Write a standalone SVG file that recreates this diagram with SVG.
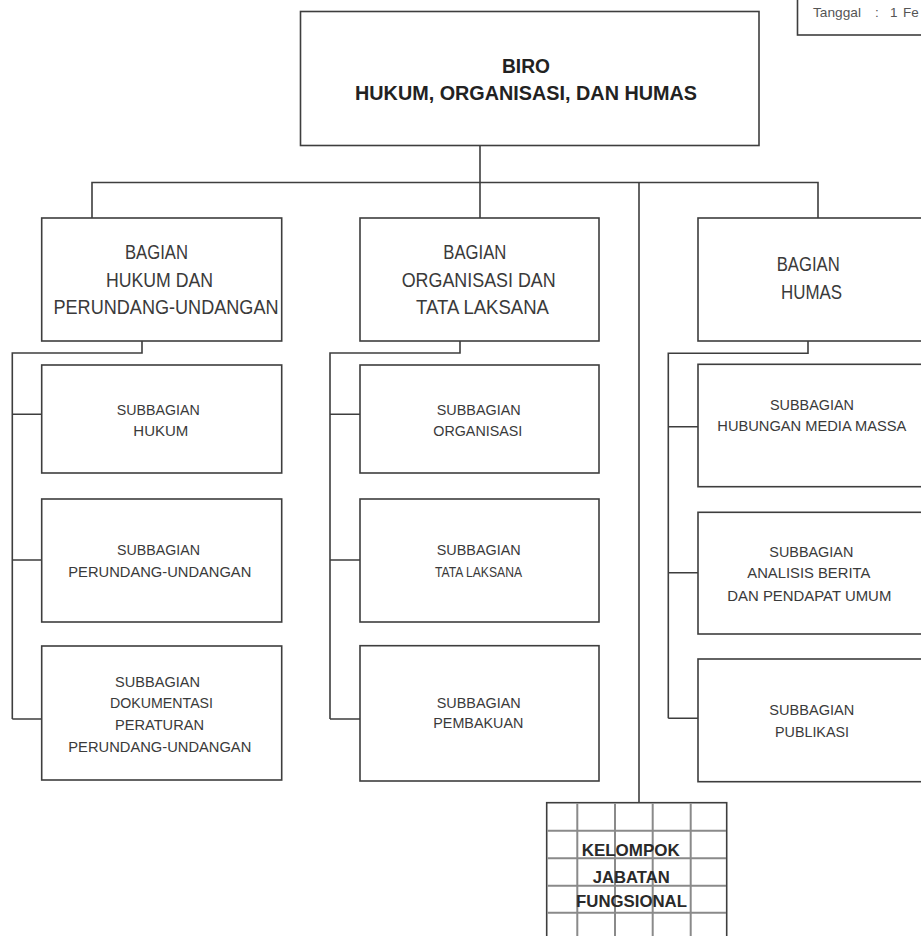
<svg xmlns="http://www.w3.org/2000/svg" width="921" height="936" viewBox="0 0 921 936">
  <style>
    .box { fill: #ffffff; stroke: #3e3e3e; stroke-width: 1.6; }
    .ln { fill: none; stroke: #3e3e3e; stroke-width: 1.6; }
    .grid { fill: none; stroke: #8a8a8a; stroke-width: 2; }
    .t { font-family: "Liberation Sans", Arial, sans-serif; fill: #3a3a3a; }
    .head { font-size: 19.5px; font-weight: bold; fill: #222222; }
    .bag { font-size: 19.5px; }
    .sub { font-size: 15.5px; }
    .kjf { font-size: 16.5px; font-weight: bold; fill: #2a2a2a; }
    .date { font-size: 13.5px; fill: #555555; }
  </style>

  <rect width="921" height="936" fill="#ffffff"/>

  <!-- date stamp, top right -->
  <g id="date-stamp">
    <rect class="box" x="797.5" y="-10" width="140" height="45"/>
    <text class="t date" y="17"><tspan x="813" textLength="48" lengthAdjust="spacingAndGlyphs">Tanggal</tspan><tspan x="875">:</tspan><tspan x="890">1</tspan><tspan x="903">Fe</tspan></text>
  </g>

  <!-- connectors -->
  <g id="connectors">
    <path class="ln" d="M480 145 V218"/>
    <path class="ln" d="M92 218 V182.5 H818 V218"/>
    <path class="ln" d="M639 182.5 V802.7"/>
    <!-- Bagian Hukum subs -->
    <path class="ln" d="M142 341 V353 H12.3 V719"/>
    <path class="ln" d="M12.3 414.3 H41.7 M12.3 560 H41.7 M12.3 719 H41.7"/>
    <!-- Bagian Organisasi subs -->
    <path class="ln" d="M460 341 V353 H330 V719"/>
    <path class="ln" d="M330 414.3 H360 M330 560 H360 M330 719 H360"/>
    <!-- Bagian Humas subs -->
    <path class="ln" d="M808 341 V353.3 H668.3 V718.3"/>
    <path class="ln" d="M668.3 426.7 H698 M668.3 572.7 H698 M668.3 718.3 H698"/>
  </g>

  <!-- head office -->
  <g id="biro">
    <rect class="box" x="300.5" y="11.5" width="458.5" height="134"/>
    <text class="t head" x="502" y="72.5" textLength="48" lengthAdjust="spacingAndGlyphs">BIRO</text>
    <text class="t head" x="355" y="100" textLength="342" lengthAdjust="spacingAndGlyphs">HUKUM, ORGANISASI,  DAN HUMAS</text>
  </g>

  <!-- divisions -->
  <g id="bagian-hukum">
    <rect class="box" x="41.7" y="218" width="240" height="123"/>
    <text class="t bag" x="125" y="259" textLength="63" lengthAdjust="spacingAndGlyphs">BAGIAN</text>
    <text class="t bag" x="106" y="287" textLength="107" lengthAdjust="spacingAndGlyphs">HUKUM  DAN</text>
    <text class="t bag" x="53.5" y="314" textLength="225" lengthAdjust="spacingAndGlyphs">PERUNDANG-UNDANGAN</text>
  </g>

  <g id="bagian-organisasi">
    <rect class="box" x="360" y="218" width="239" height="123"/>
    <text class="t bag" x="443.3" y="259" textLength="63" lengthAdjust="spacingAndGlyphs">BAGIAN</text>
    <text class="t bag" x="401.7" y="286.7" textLength="154" lengthAdjust="spacingAndGlyphs">ORGANISASI DAN</text>
    <text class="t bag" x="416" y="314" textLength="133" lengthAdjust="spacingAndGlyphs">TATA LAKSANA</text>
  </g>

  <g id="bagian-humas">
    <rect class="box" x="698" y="218" width="240" height="123"/>
    <text class="t bag" x="776.7" y="271" textLength="63" lengthAdjust="spacingAndGlyphs">BAGIAN</text>
    <text class="t bag" x="781" y="299" textLength="61" lengthAdjust="spacingAndGlyphs">HUMAS</text>
  </g>

  <!-- sub-divisions: Hukum -->
  <g id="sub-hukum">
    <rect class="box" x="41.7" y="365" width="240" height="108"/>
    <text class="t sub" x="116.7" y="414.5" textLength="83" lengthAdjust="spacingAndGlyphs">SUBBAGIAN</text>
    <text class="t sub" x="133.3" y="435.5" textLength="55" lengthAdjust="spacingAndGlyphs">HUKUM</text>
  </g>

  <g id="sub-perundang-undangan">
    <rect class="box" x="41.7" y="499" width="240" height="123"/>
    <text class="t sub" x="117" y="554.5" textLength="83" lengthAdjust="spacingAndGlyphs">SUBBAGIAN</text>
    <text class="t sub" x="68.3" y="576.5" textLength="183" lengthAdjust="spacingAndGlyphs">PERUNDANG-UNDANGAN</text>
  </g>

  <g id="sub-dokumentasi">
    <rect class="box" x="41.7" y="646" width="240" height="134"/>
    <text class="t sub" x="115" y="686.5" textLength="85" lengthAdjust="spacingAndGlyphs">SUBBAGIAN</text>
    <text class="t sub" x="110" y="708" textLength="103" lengthAdjust="spacingAndGlyphs">DOKUMENTASI</text>
    <text class="t sub" x="115" y="730" textLength="89" lengthAdjust="spacingAndGlyphs">PERATURAN</text>
    <text class="t sub" x="68.3" y="751.7" textLength="183" lengthAdjust="spacingAndGlyphs">PERUNDANG-UNDANGAN</text>
  </g>

  <!-- sub-divisions: Organisasi -->
  <g id="sub-organisasi">
    <rect class="box" x="360" y="365" width="239" height="108"/>
    <text class="t sub" x="436.7" y="414.5" textLength="84" lengthAdjust="spacingAndGlyphs">SUBBAGIAN</text>
    <text class="t sub" x="433.3" y="436" textLength="89" lengthAdjust="spacingAndGlyphs">ORGANISASI</text>
  </g>

  <g id="sub-tata-laksana">
    <rect class="box" x="360" y="499" width="239" height="123"/>
    <text class="t sub" x="436.7" y="554.5" textLength="84" lengthAdjust="spacingAndGlyphs">SUBBAGIAN</text>
    <text class="t sub" x="435" y="576.5" textLength="87" lengthAdjust="spacingAndGlyphs">TATA LAKSANA</text>
  </g>

  <g id="sub-pembakuan">
    <rect class="box" x="360" y="645.7" width="239" height="135.3"/>
    <text class="t sub" x="436.7" y="707.5" textLength="84" lengthAdjust="spacingAndGlyphs">SUBBAGIAN</text>
    <text class="t sub" x="433.3" y="728.3" textLength="90" lengthAdjust="spacingAndGlyphs">PEMBAKUAN</text>
  </g>

  <!-- sub-divisions: Humas -->
  <g id="sub-media-massa">
    <rect class="box" x="698" y="364.3" width="240" height="122.4"/>
    <text class="t sub" x="770" y="409.5" textLength="84" lengthAdjust="spacingAndGlyphs">SUBBAGIAN</text>
    <text class="t sub" x="717.3" y="431" textLength="189" lengthAdjust="spacingAndGlyphs">HUBUNGAN MEDIA MASSA</text>
  </g>

  <g id="sub-analisis-berita">
    <rect class="box" x="698" y="512.3" width="240" height="121.7"/>
    <text class="t sub" x="769.3" y="556.7" textLength="84" lengthAdjust="spacingAndGlyphs">SUBBAGIAN</text>
    <text class="t sub" x="747.3" y="578.3" textLength="123" lengthAdjust="spacingAndGlyphs">ANALISIS BERITA</text>
    <text class="t sub" x="727.3" y="600.7" textLength="164" lengthAdjust="spacingAndGlyphs">DAN PENDAPAT UMUM</text>
  </g>

  <g id="sub-publikasi">
    <rect class="box" x="698" y="659" width="240" height="122.7"/>
    <text class="t sub" x="769.3" y="715" textLength="85" lengthAdjust="spacingAndGlyphs">SUBBAGIAN</text>
    <text class="t sub" x="775" y="736.7" textLength="74" lengthAdjust="spacingAndGlyphs">PUBLIKASI</text>
  </g>

  <!-- functional group, drawn as a gridded block -->
  <g id="kelompok-jabatan-fungsional">
    <rect class="box" x="546.7" y="802.7" width="180" height="150"/>
    <path class="grid" d="M577.3 803.5 V936 M615 803.5 V936 M652.7 803.5 V936 M690.7 803.5 V936"/>
    <path class="grid" d="M547.5 830.7 H726 M547.5 858.3 H726 M547.5 885.7 H726 M547.5 912.7 H726"/>
    <text class="t kjf" x="581.7" y="856" textLength="98" lengthAdjust="spacingAndGlyphs">KELOMPOK</text>
    <text class="t kjf" x="592.7" y="882.7" textLength="77" lengthAdjust="spacingAndGlyphs">JABATAN</text>
    <text class="t kjf" x="576" y="906.7" textLength="111" lengthAdjust="spacingAndGlyphs">FUNGSIONAL</text>
  </g>
</svg>
